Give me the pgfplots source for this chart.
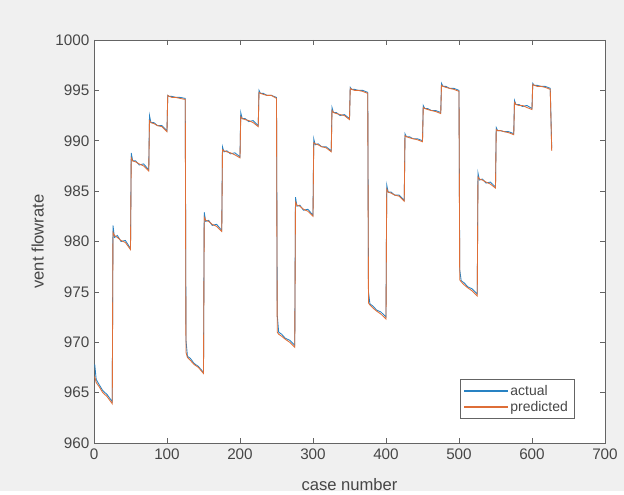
\documentclass[border=0pt]{standalone}
\usepackage{fontspec}
\setmainfont{Liberation Sans}
\usepackage{pgfplots}
\pgfplotsset{compat=1.18}
\definecolor{figbg}{RGB}{240,240,240}
\definecolor{mblue}{RGB}{40,130,195}
\definecolor{morange}{RGB}{222,110,55}
\definecolor{axgray}{RGB}{100,100,100}
\definecolor{txtgray}{RGB}{70,70,70}
\begin{document}
\begin{tikzpicture}
\fill[figbg] (0,0) rectangle (468bp,368.25bp);
\begin{axis}[
  scale only axis,
  width=383.25bp, height=302.25bp,
  at={(70.5bp,36bp)}, anchor=south west,
  xmin=0, xmax=700, ymin=960, ymax=1000,
  xtick={0,100,...,700}, ytick={960,965,...,1000},
  scaled ticks=false,
  /pgf/number format/1000 sep={},
  /pgf/number format/assume math mode=true,
  tick align=inside,
  major tick length=3.75bp,
  axis line style={axgray, line width=0.5pt},
  every tick/.style={axgray, line width=0.5pt},
  tick label style={font=\fontsize{11.5}{13}\selectfont, text=txtgray},
  xticklabel style={yshift=-1bp},
  label style={font=\fontsize{12.5}{14}\selectfont, text=txtgray},
  xlabel={case number},
  ylabel={vent flowrate},
  xlabel style={at={(axis description cs:0.5,-0.102)}, anchor=center},
  ylabel style={at={(axis description cs:-0.11,0.5)}, anchor=center},
  axis background/.style={fill=white},
  legend style={at={(0.941,0.0596)}, anchor=south east, draw=axgray, line width=0.5pt, fill=white,
    font=\fontsize{10.5}{12}\selectfont, text=txtgray, row sep=-1bp, inner xsep=3bp, inner ysep=2bp},
  legend cell align=left,
]
\addplot[draw=mblue, line width=0.65pt,
  legend image code/.code={\fill[mblue] (0bp,-0.38bp) rectangle (32bp,0.38bp);}] coordinates {
(1,967.8)(3,966.3)(7,965.8)(12,965.2)(18,964.8)(25,964.1)
(26,981.6)(28,980.4)(32,980.6)(37,980.0)(43,980.1)(50,979.3)
(51,988.8)(53,988.0)(57,988.0)(62,987.6)(68,987.7)(75,987.1)
(76,992.5)(78,991.8)(82,991.8)(87,991.5)(93,991.5)(100,991.0)
(101,994.5)(103,994.4)(107,994.4)(112,994.3)(118,994.3)(125,994.2)
(126,970.2)(128,968.6)(132,968.4)(137,967.9)(143,967.6)(150,967.0)
(151,982.9)(153,982.0)(157,982.1)(162,981.6)(168,981.7)(175,981.1)
(176,989.4)(178,988.9)(182,989.0)(187,988.7)(193,988.8)(200,988.4)
(201,992.8)(203,992.2)(207,992.2)(212,991.9)(218,992.0)(225,991.5)
(226,995.0)(228,994.7)(232,994.7)(237,994.5)(243,994.5)(250,994.3)
(251,972.7)(253,971.0)(257,970.8)(262,970.4)(268,970.2)(275,969.7)
(276,984.4)(278,983.5)(282,983.6)(287,983.1)(293,983.2)(300,982.6)
(301,990.2)(303,989.6)(307,989.7)(312,989.4)(318,989.4)(325,989.0)
(326,993.3)(328,992.8)(332,992.8)(337,992.5)(343,992.6)(350,992.2)
(351,995.3)(353,995.1)(357,995.1)(362,995.0)(368,995.0)(375,994.8)
(376,975.0)(378,973.8)(382,973.6)(387,973.2)(393,973.0)(400,972.5)
(401,985.6)(403,984.9)(407,984.9)(412,984.6)(418,984.6)(425,984.1)
(426,990.7)(428,990.4)(432,990.4)(437,990.2)(443,990.2)(450,990.0)
(451,993.5)(453,993.2)(457,993.2)(462,993.0)(468,993.0)(475,992.8)
(476,995.7)(478,995.4)(482,995.4)(487,995.2)(493,995.2)(500,995.0)
(501,977.2)(503,976.1)(507,975.9)(512,975.5)(518,975.3)(525,974.8)
(526,986.8)(528,986.1)(532,986.2)(537,985.8)(543,985.9)(550,985.4)
(551,991.3)(553,991.0)(557,991.0)(562,990.9)(568,990.9)(575,990.7)
(576,994.0)(578,993.6)(582,993.6)(587,993.4)(593,993.5)(600,993.2)
(601,995.7)(603,995.5)(607,995.5)(612,995.4)(618,995.4)(625,995.2)
(627,989.3)
};
\addlegendentry{actual}
\addplot[draw=morange, line width=0.65pt,
  legend image code/.code={\fill[morange] (0bp,-0.38bp) rectangle (32bp,0.38bp);}] coordinates {
(1,966.6)(3,966.0)(7,965.6)(12,965.0)(18,964.6)(25,963.9)
(26,980.9)(28,980.6)(32,980.4)(37,980.1)(43,979.9)(50,979.2)
(51,988.3)(53,988.0)(57,987.9)(62,987.7)(68,987.5)(75,987.0)
(76,992.0)(78,991.8)(82,991.7)(87,991.5)(93,991.4)(100,990.9)
(101,994.5)(103,994.4)(107,994.3)(112,994.3)(118,994.2)(125,994.1)
(126,969.0)(128,968.5)(132,968.2)(137,967.8)(143,967.5)(150,966.9)
(151,982.4)(153,982.1)(157,982.0)(162,981.7)(168,981.5)(175,981.0)
(176,989.1)(178,989.0)(182,988.9)(187,988.8)(193,988.6)(200,988.3)
(201,992.4)(203,992.2)(207,992.1)(212,992.0)(218,991.8)(225,991.4)
(226,994.8)(228,994.7)(232,994.6)(237,994.5)(243,994.5)(250,994.2)
(251,971.0)(253,970.8)(257,970.6)(262,970.3)(268,970.0)(275,969.5)
(276,983.9)(278,983.6)(282,983.5)(287,983.2)(293,983.0)(300,982.5)
(301,989.8)(303,989.7)(307,989.6)(312,989.4)(318,989.3)(325,988.9)
(326,993.0)(328,992.8)(332,992.7)(337,992.6)(343,992.5)(350,992.1)
(351,995.2)(353,995.1)(357,995.0)(362,995.0)(368,994.9)(375,994.7)
(376,973.9)(378,973.7)(382,973.4)(387,973.1)(393,972.8)(400,972.3)
(401,985.2)(403,984.9)(407,984.8)(412,984.6)(418,984.5)(425,984.0)
(426,990.5)(428,990.4)(432,990.3)(437,990.2)(443,990.1)(450,989.9)
(451,993.3)(453,993.2)(457,993.1)(462,993.0)(468,992.9)(475,992.7)
(476,995.5)(478,995.4)(482,995.3)(487,995.2)(493,995.1)(500,994.9)
(501,976.2)(503,976.0)(507,975.7)(512,975.4)(518,975.1)(525,974.6)
(526,986.4)(528,986.2)(532,986.1)(537,985.9)(543,985.7)(550,985.3)
(551,991.1)(553,991.0)(557,991.0)(562,990.9)(568,990.8)(575,990.6)
(576,993.8)(578,993.6)(582,993.5)(587,993.5)(593,993.3)(600,993.1)
(601,995.6)(603,995.5)(607,995.4)(612,995.4)(618,995.3)(625,995.1)
(627,989.0)
};
\addlegendentry{predicted}
\end{axis}
\end{tikzpicture}
\end{document}
